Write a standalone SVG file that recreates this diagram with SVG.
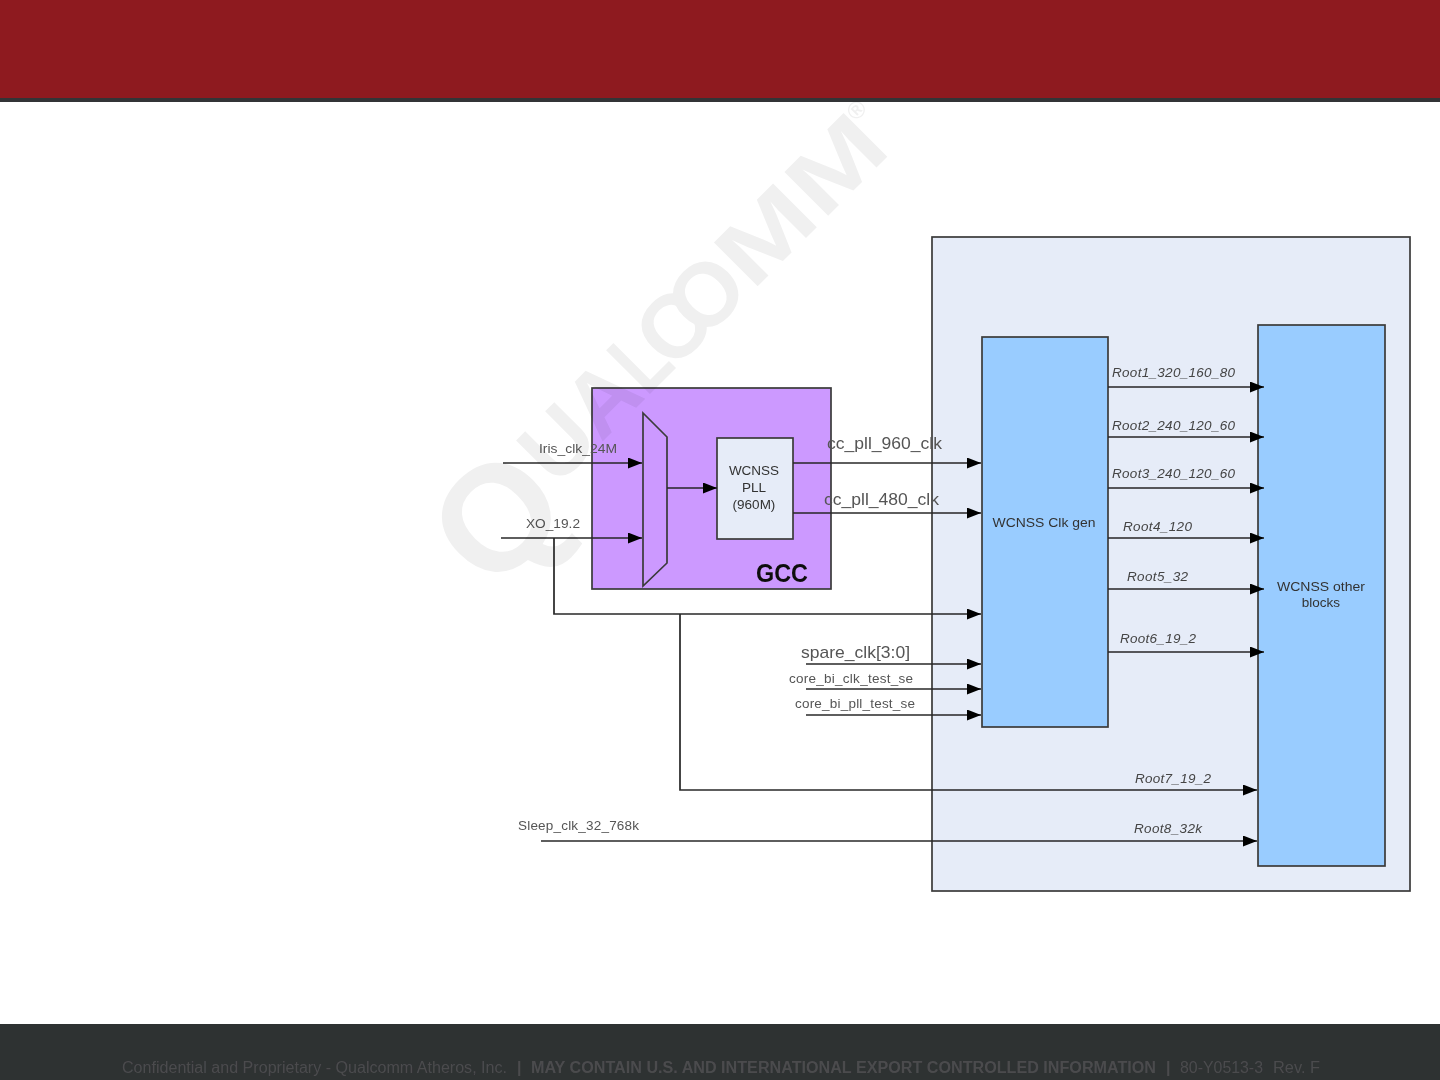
<svg xmlns="http://www.w3.org/2000/svg" width="1440" height="1080" viewBox="0 0 1440 1080">
<style>
text{font-family:"Liberation Sans",Arial,sans-serif}
.box{stroke:#3a3a3a;stroke-width:1.7}
.blue{fill:#99ccff}.pale{fill:#e6ecf8}.purple{fill:#cc99ff}
.lbl{fill:#555;font-size:13.5px}
.nl{fill:#333;font-size:13.5px;text-anchor:middle}
.root{fill:#444;font-size:13.5px;font-style:italic}
.big{fill:#555;font-size:17px}
.con{fill:none;stroke:#262626;stroke-width:1.7;marker-end:url(#arr)}
.ft{fill:#4b4c4e;font-size:16px}
.wm{font-weight:bold;font-size:90px}
</style>
<defs>
<marker id="arr" markerUnits="userSpaceOnUse" markerWidth="15" markerHeight="11" refX="14" refY="5.5" orient="auto"><path d="M0 0L14 5.5L0 11Z" fill="#000"/></marker>
<filter id="soft" x="-2%" y="-2%" width="104%" height="104%"><feGaussianBlur stdDeviation="0.5"/></filter>
</defs>
<rect width="1440" height="1080" fill="#fff"/>
<rect id="header" width="1440" height="98" fill="#8e1a1f"/>
<rect id="header-rule" y="98" width="1440" height="4" fill="#333436"/>
<g filter="url(#soft)">
<g id="wcnss-outer"><rect class="box pale" x="932" y="237" width="478" height="654"/></g>
<g id="gcc"><rect class="box purple" x="592" y="388" width="239" height="201"/><text x="756" y="582" font-size="25" font-weight="bold" fill="#111" textLength="52" lengthAdjust="spacingAndGlyphs">GCC</text></g>
<g id="mux"><polygon class="box purple" points="643,413 667,437 667,563 643,586"/></g>
<g id="wcnss-pll"><rect class="box pale" x="717" y="438" width="76" height="101"/><text class="nl" x="754" y="475">WCNSS</text><text class="nl" x="754" y="492">PLL</text><text class="nl" x="754" y="509">(960M)</text></g>
<g id="clk-gen"><rect class="box blue" x="982" y="337" width="126" height="390"/><text class="nl" x="1044" y="527" textLength="103" lengthAdjust="spacingAndGlyphs">WCNSS Clk gen</text></g>
<g id="other-blocks"><rect class="box blue" x="1258" y="325" width="127" height="541"/><text class="nl" x="1321" y="591" textLength="88" lengthAdjust="spacingAndGlyphs">WCNSS other</text><text class="nl" x="1321" y="607">blocks</text></g>
<g id="connectors">
<path class="con" d="M503 463H642"/>
<path class="con" d="M501 538H642"/>
<path class="con" d="M667 488H717"/>
<path class="con" d="M793 463H981"/>
<path class="con" d="M793 513H981"/>
<path class="con" d="M554 538V614H981"/>
<path class="con" d="M680 614V790H1257"/>
<path class="con" d="M806 664H981"/>
<path class="con" d="M806 689H981"/>
<path class="con" d="M806 715H981"/>
<path class="con" d="M1108 387H1264"/>
<path class="con" d="M1108 437H1264"/>
<path class="con" d="M1108 488H1264"/>
<path class="con" d="M1108 538H1264"/>
<path class="con" d="M1108 589H1264"/>
<path class="con" d="M1108 652H1264"/>
<path class="con" d="M541 841H1257"/>
<text class="lbl" x="539" y="453" textLength="78" lengthAdjust="spacingAndGlyphs">Iris_clk_24M</text>
<text class="lbl" x="526" y="528" textLength="54" lengthAdjust="spacingAndGlyphs">XO_19.2</text>
<text class="big" x="827" y="449" textLength="115" lengthAdjust="spacingAndGlyphs">cc_pll_960_clk</text>
<text class="big" x="824" y="505" textLength="115" lengthAdjust="spacingAndGlyphs">cc_pll_480_clk</text>
<text class="big" x="801" y="658" textLength="109" lengthAdjust="spacingAndGlyphs">spare_clk[3:0]</text>
<text class="lbl" x="789" y="683" textLength="124" lengthAdjust="spacing">core_bi_clk_test_se</text>
<text class="lbl" x="795" y="708" textLength="120" lengthAdjust="spacing">core_bi_pll_test_se</text>
<text class="lbl" x="518" y="830" textLength="121" lengthAdjust="spacing">Sleep_clk_32_768k</text>
<text class="root" x="1112" y="377" textLength="123" lengthAdjust="spacing">Root1_320_160_80</text>
<text class="root" x="1112" y="430" textLength="123" lengthAdjust="spacing">Root2_240_120_60</text>
<text class="root" x="1112" y="478" textLength="123" lengthAdjust="spacing">Root3_240_120_60</text>
<text class="root" x="1123" y="531" textLength="69" lengthAdjust="spacing">Root4_120</text>
<text class="root" x="1127" y="581" textLength="61" lengthAdjust="spacing">Root5_32</text>
<text class="root" x="1120" y="643" textLength="76" lengthAdjust="spacing">Root6_19_2</text>
<text class="root" x="1135" y="783" textLength="76" lengthAdjust="spacing">Root7_19_2</text>
<text class="root" x="1134" y="833" textLength="68" lengthAdjust="spacing">Root8_32k</text>
</g>
<g id="watermark" fill="#000" opacity="0.06">
<text transform="translate(492,595) rotate(-45)" font-size="150" font-weight="bold">Q</text>
<text class="wm" transform="translate(556,488) rotate(-45)">U</text>
<text class="wm" transform="translate(601,443) rotate(-45)">A</text>
<text class="wm" transform="translate(646.5,397.5) rotate(-45) scale(0.8,1)">L</text>
<text class="wm" transform="translate(672,372) rotate(-45)">C</text>
<text class="wm" transform="translate(703,341) rotate(-45)">O</text>
<text class="wm" transform="translate(752,292) rotate(-45) scale(1.33,1)">M</text>
<text class="wm" transform="translate(822.5,221.5) rotate(-45) scale(1.33,1)">M</text>
<text transform="translate(856,122) rotate(-45)" font-size="24" font-weight="bold">®</text>
</g>
<rect id="footer" y="1024" width="1440" height="56" fill="#2e3032"/>
<g id="footer-text">
<text class="ft" x="122" y="1072.5" textLength="385" lengthAdjust="spacingAndGlyphs">Confidential and Proprietary - Qualcomm Atheros, Inc.</text>
<text class="ft" x="517" y="1072.5" font-weight="bold">|</text>
<text class="ft" x="531" y="1072.5" font-weight="bold" textLength="625" lengthAdjust="spacingAndGlyphs">MAY CONTAIN U.S. AND INTERNATIONAL EXPORT CONTROLLED INFORMATION</text>
<text class="ft" x="1166" y="1072.5" font-weight="bold">|</text>
<text class="ft" x="1180" y="1072.5" textLength="83" lengthAdjust="spacingAndGlyphs">80-Y0513-3</text>
<text class="ft" x="1273" y="1072.5" textLength="47" lengthAdjust="spacingAndGlyphs">Rev. F</text>
</g>
</g>
</svg>
